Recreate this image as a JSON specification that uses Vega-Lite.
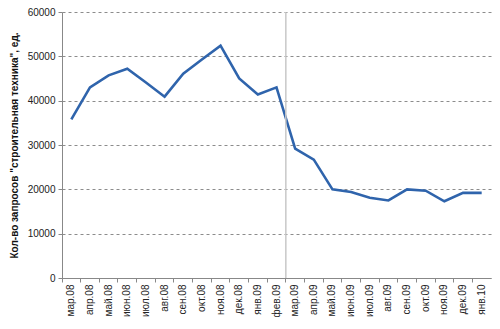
{
  "$schema": "https://vega.github.io/schema/vega-lite/v6.json",
  "width": 429,
  "height": 266,
  "autosize": {"type": "none"},
  "padding": {"left": 62, "top": 12, "right": 9, "bottom": 51},
  "background": "white",
  "config": {
    "view": {"stroke": null},
    "font": "Liberation Sans",
    "axis": {"labelFont": "Liberation Sans", "labelFontSize": 10, "labelColor": "#222", "titleFont": "Liberation Sans"}
  },
  "datasets": {
    "series": [
      {"month": "мар.08", "value": 35800},
      {"month": "апр.08", "value": 43000},
      {"month": "май.08", "value": 45700},
      {"month": "июн.08", "value": 47200},
      {"month": "июл.08", "value": 44100},
      {"month": "авг.08", "value": 40900},
      {"month": "сен.08", "value": 46100},
      {"month": "окт.08", "value": 49300},
      {"month": "ноя.08", "value": 52400},
      {"month": "дек.08", "value": 45000},
      {"month": "янв.09", "value": 41400},
      {"month": "фев.09", "value": 43000},
      {"month": "мар.09", "value": 29200},
      {"month": "апр.09", "value": 26700},
      {"month": "май.09", "value": 20000},
      {"month": "июн.09", "value": 19400},
      {"month": "июл.09", "value": 18100},
      {"month": "авг.09", "value": 17500},
      {"month": "сен.09", "value": 20000},
      {"month": "окт.09", "value": 19700},
      {"month": "ноя.09", "value": 17300},
      {"month": "дек.09", "value": 19200},
      {"month": "янв.10", "value": 19200}
    ],
    "divider": [{"month": "мар.09"}]
  },
  "layer": [
    {
      "data": {"name": "series"},
      "mark": {"type": "tick", "orient": "vertical", "opacity": 0},
      "encoding": {
        "x": {"field": "month", "type": "ordinal", "sort": null,
          "scale": {"type": "band", "paddingInner": 0, "paddingOuter": 0},
          "axis": {"orient": "bottom", "labels": false, "title": null, "domain": false, "ticks": true, "tickColor": "#888", "tickSize": 4, "bandPosition": 0, "grid": false}}
      }
    },
    {
      "data": {"name": "series"},
      "mark": {"type": "line", "color": "#2f64ac", "strokeWidth": 2.6},
      "encoding": {
        "x": {
          "field": "month", "type": "ordinal", "sort": null,
          "axis": {"orient": "bottom", "title": null, "labelAngle": -90, "labelPadding": 6, "ticks": false, "domainColor": "#888", "grid": false}
        },
        "y": {
          "field": "value", "type": "quantitative",
          "scale": {"domain": [0, 60000], "nice": false},
          "axis": {
            "title": "Кол-во запросов \"строительная техника\", ед.",
            "titleFontWeight": "bold", "titleFontSize": 10, "titleColor": "#111", "titlePadding": 8,
            "values": [0, 10000, 20000, 30000, 40000, 50000, 60000],
            "format": "d",
            "grid": true, "gridDash": [3, 3], "gridColor": "#8c8c8c",
            "domainColor": "#888", "tickColor": "#888", "tickSize": 4, "labelPadding": 3
          }
        }
      }
    },
    {
      "data": {"name": "divider"},
      "mark": {"type": "rule", "color": "#c8c8c8", "strokeWidth": 1.5},
      "encoding": {
        "x": {"field": "month", "type": "ordinal", "sort": null, "bandPosition": 0, "axis": null}
      }
    }
  ],
  "resolve": {"axis": {"x": "independent"}}
}
